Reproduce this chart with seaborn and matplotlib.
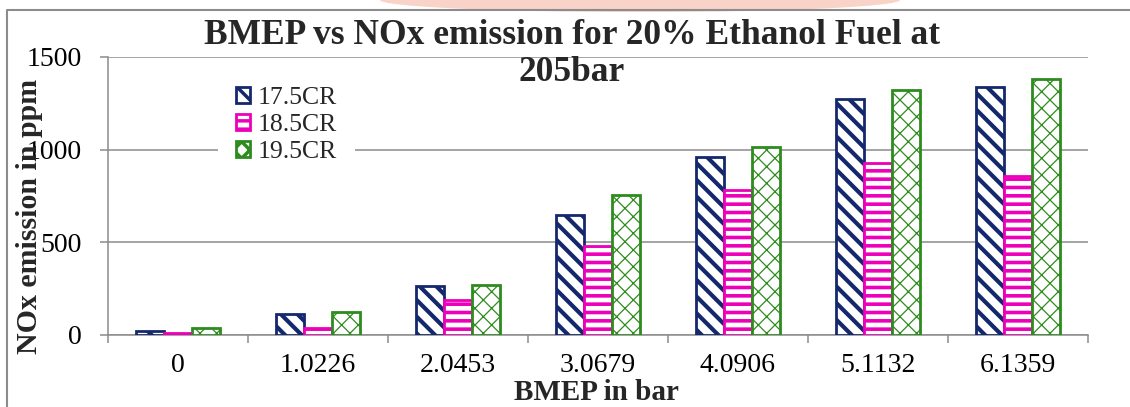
import matplotlib
matplotlib.use("Agg")
import matplotlib.pyplot as plt
from matplotlib.patches import Ellipse
from matplotlib.lines import Line2D
from matplotlib.ticker import FixedLocator
import numpy as np
import pandas as pd
import seaborn as sns

# BMEP load points (bar) and compression-ratio series
bmep_labels = ["0", "1.0226", "2.0453", "3.0679", "4.0906", "5.1132", "6.1359"]
cr_labels = ["17.5CR", "18.5CR", "19.5CR"]

# NOx emission in ppm for each compression ratio
nox_175 = [23, 111, 264, 645, 961, 1276, 1338]
nox_185 = [12, 38, 189, 481, 785, 929, 859]
nox_195 = [36, 124, 270, 758, 1015, 1324, 1381]

yticks = [0, 500, 1000, 1500]

series_colors = ["#14286e", "#ee00bb", "#2e8b1e"]
series_hatches = ["\\\\", "--", "xx"]
hatch_widths = [3.0, 2.6, 0.9]

df = pd.DataFrame({
    "BMEP": bmep_labels * 3,
    "NOx": nox_175 + nox_185 + nox_195,
    "CR": [c for c in cr_labels for _ in bmep_labels],
})

sns.set_style("white")
plt.rcParams["font.family"] = ["Liberation Serif", "DejaVu Serif"]
plt.rcParams["hatch.linewidth"] = 2.5

grid_gray = "#8c8c8c"

fig = plt.figure(figsize=(11.3, 4.07), dpi=100)
ax = fig.add_axes([108 / 1130, 1 - 335 / 407, 980 / 1130, 278 / 407])

sns.barplot(data=df, x="BMEP", y="NOx", hue="CR", order=bmep_labels,
            hue_order=cr_labels, palette=series_colors, width=0.6, gap=0,
            errorbar=None, legend=False, ax=ax)

# white-filled bars with coloured outlines and pattern fills
for cont, col, htc, hlw in zip(ax.containers, series_colors, series_hatches, hatch_widths):
    for p in cont.patches:
        p.set_facecolor("white")
        p.set_edgecolor(col)
        p.set_linewidth(2.0)
        p.set_hatch(htc)
        if hasattr(p, "set_hatch_linewidth"):
            p.set_hatch_linewidth(hlw)
        p.set_zorder(3)

ax.set_ylim(0, 1500)
ax.set_xlim(-0.5, len(bmep_labels) - 0.5)
ax.set_yticks(yticks)
ax.set_yticklabels([str(v) for v in yticks])
ax.yaxis.grid(True, color=grid_gray, linewidth=1.1, zorder=0)
ax.xaxis.grid(False)
ax.set_axisbelow(True)

for s in ["top", "right"]:
    ax.spines[s].set_visible(False)
for s in ["left", "bottom"]:
    ax.spines[s].set_color(grid_gray)
    ax.spines[s].set_linewidth(1.1)

ax.tick_params(axis="y", which="major", left=True, length=6, width=1.1,
               color=grid_gray, direction="out", labelsize=20, pad=13,
               labelcolor="black")
ax.tick_params(axis="x", which="major", bottom=True, length=0, labelsize=20,
               pad=13, labelcolor="black")
ax.xaxis.set_minor_locator(FixedLocator(np.arange(-0.5, len(bmep_labels), 1.0)))
ax.tick_params(axis="x", which="minor", bottom=True, length=6, width=1.1,
               color=grid_gray, direction="out")

ax.set_xlabel("BMEP in bar", fontsize=21, fontweight="bold", va="center")
ax.xaxis.set_label_coords((596 - 108) / 980, (335 - 393) / 278)
ax.set_ylabel("NOx emission in ppm", fontsize=21.5, fontweight="bold", va="center")
ax.yaxis.set_label_coords((30 - 108) / 980, (335 - 216) / 278)

fig.suptitle("BMEP vs NOx emission for 20% Ethanol Fuel at\n205bar",
             x=572 / 1130, y=1 - 54 / 407, va="center", ha="center",
             fontsize=25.5, fontweight="bold", linespacing=1.15)

handles = [cont.patches[0] for cont in ax.containers]
leg = ax.legend(handles, cr_labels, loc="upper left",
                bbox_to_anchor=(218 / 1130, 1 - 69 / 407),
                bbox_transform=fig.transFigure, frameon=True, fancybox=False,
                framealpha=1, facecolor="white", edgecolor="none",
                fontsize=18.5, handlelength=0.55, handleheight=0.55,
                handletextpad=0.3, labelspacing=0.2, borderpad=0.7,
                borderaxespad=0)
leg.set_zorder(5)

# faint header mark above the chart frame
fig.patches.append(Ellipse((640 / 1130, 1.0), 520 / 1130, 24 / 407,
                           transform=fig.transFigure, facecolor="#f9d3c8",
                           edgecolor="none", zorder=0))
# outer chart frame (left and top edges)
frame_y = 1 - 10 / 407
frame_x = 7 / 1130
fig.lines.append(Line2D([frame_x, frame_x, 1.0], [0.0, frame_y, frame_y],
                        transform=fig.transFigure, color=grid_gray,
                        linewidth=1.5, zorder=1))

fig.savefig("out.png", dpi=100)
